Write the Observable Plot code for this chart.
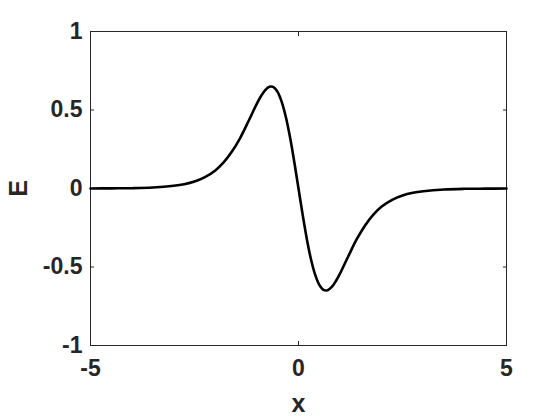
<!DOCTYPE html>
<html>
<head>
<meta charset="utf-8">
<script src="https://cdn.jsdelivr.net/npm/d3@7"></script>
<script src="https://cdn.jsdelivr.net/npm/@observablehq/plot@0.6"></script>
<style>
  html, body { margin: 0; padding: 0; background: #fff; }
</style>
</head>
<body>
<div id="chart"></div>
<script>
// Values
const xValues = [-5, -4.5, -4, -3.5, -3, -2.75, -2.5, -2.25, -2, -1.8, -1.6, -1.4, -1.2, -1, -0.9, -0.8, -0.7, -0.6, -0.5, -0.4, -0.3, -0.2, -0.1,
  0, 0.1, 0.2, 0.3, 0.4, 0.5, 0.6, 0.7, 0.8, 0.9, 1, 1.2, 1.4, 1.6, 1.8, 2, 2.25, 2.5, 2.75, 3, 3.5, 4, 4.5, 5];
const eValues = [0.000, 0.001, 0.002, 0.006, 0.017, 0.027, 0.044, 0.072, 0.115, 0.166, 0.235, 0.323, 0.430, 0.541, 0.589, 0.627, 0.648, 0.646, 0.614, 0.549, 0.451, 0.321, 0.167,
  0, -0.167, -0.321, -0.451, -0.549, -0.614, -0.646, -0.648, -0.627, -0.589, -0.541, -0.430, -0.323, -0.235, -0.166, -0.115, -0.072, -0.044, -0.027, -0.017, -0.006, -0.002, -0.001, 0.000];
const xTicks = [-5, 0, 5];
const yTicks = [-1, -0.5, 0, 0.5, 1];
const xLabel = "x";
const yLabel = "E";

const data = xValues.map((x, i) => ({x, e: eValues[i]}));
const fmt = d => String(d);
const ink = "#262626";
const font = "'Liberation Sans', Arial, Helvetica, sans-serif";

const chart = Plot.plot({
  width: 560,
  height: 420,
  marginLeft: 90,
  marginRight: 54,
  marginTop: 31,
  marginBottom: 75,
  style: {fontFamily: font, background: "#fff", color: ink},
  x: {domain: [-5, 5]},
  y: {domain: [-1, 1]},
  marks: [
    // inward ticks on all four sides
    Plot.axisX(xTicks, {anchor: "bottom", tickSize: 4, dy: -4, tickFormat: () => "", label: null, stroke: ink}),
    Plot.axisX(xTicks, {anchor: "top", tickSize: 4, dy: 4, tickFormat: () => "", label: null, stroke: ink}),
    Plot.axisY(yTicks, {anchor: "left", tickSize: 4, dx: 4, tickFormat: () => "", label: null, stroke: ink}),
    Plot.axisY(yTicks, {anchor: "right", tickSize: 4, dx: -4, tickFormat: () => "", label: null, stroke: ink}),
    // tick labels
    Plot.axisX(xTicks, {anchor: "bottom", tickSize: 0, tickPadding: 14, tickFormat: fmt, label: null,
      fontSize: 23, fontWeight: "bold", fill: ink}),
    Plot.axisY(yTicks, {anchor: "left", tickSize: 0, tickPadding: 8, tickFormat: fmt, label: null,
      fontSize: 23, fontWeight: "bold", fill: ink}),
    Plot.frame({stroke: ink, strokeWidth: 1}),
    Plot.line(data, {x: "x", y: "e", stroke: "#000", strokeWidth: 2.6, curve: "catmull-rom"}),
    // axis titles
    Plot.text([yLabel], {text: d => d, frameAnchor: "left", dx: -72, rotate: -90, fontSize: 25, fontWeight: "bold", fill: ink, lineAnchor: "middle", textAnchor: "middle"}),
    Plot.text([xLabel], {text: d => d, frameAnchor: "bottom", dy: 58, fontSize: 25, fontWeight: "bold", fill: ink, lineAnchor: "middle", textAnchor: "middle"})
  ]
});
document.getElementById("chart").appendChild(chart);
</script>
</body>
</html>
